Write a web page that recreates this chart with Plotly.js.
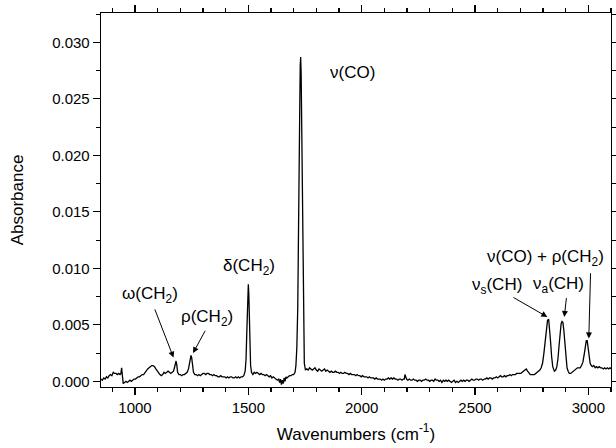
<!DOCTYPE html>
<html>
<head>
<meta charset="utf-8">
<script src="https://cdn.plot.ly/plotly-3.0.1.min.js"></script>
<style>
  html, body { margin: 0; padding: 0; background: #fff; }
  #chart { width: 616px; height: 448px; }
</style>
</head>
<body>
<div id="chart"></div>
<script>
// IR spectrum, absorbance vs wavenumber

const wavenumbers = [
  850, 856, 862, 868, 874, 880, 886, 892, 898, 904, 910, 916, 922, 928, 934, 938, 941, 944, 948,
  954, 960, 966, 972, 978, 984, 990, 996, 1002, 1008, 1014, 1020, 1026, 1032, 1038, 1044, 1050,
  1056, 1062, 1068, 1074, 1080, 1086, 1092, 1098, 1104, 1110, 1116, 1122, 1128, 1134, 1140, 1146,
  1152, 1158, 1164, 1170, 1174, 1178, 1181, 1184, 1188, 1194, 1200, 1206, 1212, 1218, 1224, 1230,
  1236, 1240, 1244, 1247, 1250, 1254, 1258, 1264, 1270, 1276, 1282, 1288, 1294, 1300, 1306, 1312,
  1318, 1324, 1330, 1336, 1342, 1348, 1354, 1360, 1366, 1372, 1378, 1384, 1390, 1396, 1402, 1408,
  1414, 1420, 1426, 1432, 1438, 1444, 1450, 1456, 1462, 1468, 1474, 1480, 1486, 1490, 1493, 1496,
  1498, 1500, 1502, 1504, 1507, 1510, 1514, 1520, 1526, 1532, 1538, 1544, 1550, 1556, 1562, 1568,
  1574, 1580, 1586, 1592, 1598, 1604, 1610, 1616, 1622, 1628, 1634, 1638, 1642, 1646, 1650, 1654,
  1658, 1662, 1666, 1670, 1676, 1682, 1688, 1694, 1700, 1706, 1710, 1714, 1718, 1721, 1724, 1727,
  1729, 1731, 1733, 1735, 1738, 1741, 1744, 1747, 1752, 1758, 1764, 1770, 1776, 1782, 1788, 1794,
  1800, 1806, 1812, 1818, 1824, 1830, 1836, 1842, 1848, 1854, 1860, 1866, 1872, 1878, 1884, 1890,
  1896, 1902, 1908, 1914, 1920, 1926, 1932, 1938, 1944, 1950, 1956, 1962, 1968, 1974, 1980, 1986,
  1992, 1998, 2004, 2010, 2016, 2022, 2028, 2034, 2040, 2046, 2052, 2058, 2064, 2070, 2076, 2082,
  2088, 2094, 2100, 2106, 2112, 2118, 2124, 2130, 2136, 2142, 2148, 2154, 2160, 2166, 2172, 2178,
  2184, 2188, 2191, 2194, 2198, 2204, 2210, 2216, 2222, 2228, 2234, 2240, 2246, 2252, 2258, 2264,
  2270, 2276, 2282, 2288, 2294, 2300, 2306, 2312, 2318, 2324, 2330, 2336, 2342, 2348, 2354, 2360,
  2366, 2372, 2378, 2384, 2390, 2396, 2402, 2408, 2414, 2420, 2426, 2432, 2438, 2444, 2450, 2456,
  2462, 2468, 2474, 2480, 2486, 2492, 2498, 2504, 2510, 2516, 2522, 2528, 2534, 2540, 2546, 2552,
  2558, 2564, 2570, 2576, 2582, 2588, 2594, 2600, 2606, 2612, 2618, 2624, 2630, 2636, 2642, 2648,
  2654, 2660, 2666, 2672, 2678, 2684, 2690, 2696, 2702, 2708, 2714, 2720, 2726, 2732, 2738, 2744,
  2750, 2756, 2762, 2768, 2774, 2780, 2786, 2792, 2798, 2804, 2810, 2815, 2820, 2825, 2829, 2833,
  2838, 2843, 2850, 2856, 2861, 2866, 2871, 2876, 2880, 2884, 2888, 2892, 2896, 2901, 2906, 2911,
  2916, 2922, 2928, 2934, 2940, 2946, 2952, 2958, 2964, 2970, 2976, 2982, 2987, 2991, 2995, 2999,
  3003, 3008, 3013, 3018, 3024, 3030, 3036, 3042, 3048, 3054, 3060, 3066, 3072, 3078, 3084, 3090,
  3096, 3100
];

const absorbance = [
  0.0002, 0.0001, 0.0003, 0.0002, 0.0004, 0.0003, 0.0005, 0.0006, 0.0005, 0.0008, 0.0007, 0.0007, 0.0006, 0.0007, 0.0006, 0.0007, 0.0012, 0.0002, -0.0002,
  -0.0001, 0.0000, -0.0001, 0.0000, 0.0001, 0.0000, 0.0001, 0.0002, 0.0002, 0.0003, 0.0004, 0.0004, 0.0005, 0.0006, 0.0006, 0.0008, 0.0009,
  0.0011, 0.0012, 0.0013, 0.0014, 0.0014, 0.0013, 0.0011, 0.0009, 0.0007, 0.0006, 0.0005, 0.0006, 0.0008, 0.0007, 0.0008, 0.0009,
  0.0008, 0.0007, 0.0008, 0.0009, 0.0012, 0.0017, 0.0018, 0.0015, 0.0008, 0.0006, 0.0006, 0.0005, 0.0006, 0.0006, 0.0007, 0.0008,
  0.0011, 0.0017, 0.0022, 0.0023, 0.0021, 0.0014, 0.0008, 0.0006, 0.0006, 0.0005, 0.0006, 0.0005, 0.0006, 0.0007, 0.0007, 0.0006,
  0.0007, 0.0007, 0.0006, 0.0006, 0.0005, 0.0006, 0.0005, 0.0005, 0.0004, 0.0004, 0.0005, 0.0004, 0.0004, 0.0004, 0.0003, 0.0004,
  0.0003, 0.0004, 0.0004, 0.0003, 0.0003, 0.0004, 0.0003, 0.0004, 0.0003, 0.0004, 0.0004, 0.0005, 0.0009, 0.0020, 0.0042, 0.0072,
  0.0084, 0.0086, 0.0078, 0.0058, 0.0030, 0.0014, 0.0008, 0.0006, 0.0008, 0.0007, 0.0008, 0.0007, 0.0006, 0.0007, 0.0006, 0.0006,
  0.0005, 0.0006, 0.0005, 0.0004, 0.0005, 0.0003, 0.0004, 0.0003, 0.0002, 0.0001, 0.0002, -0.0001, 0.0002, -0.0003, 0.0001, -0.0002,
  0.0003, 0.0000, 0.0004, 0.0003, 0.0004, 0.0005, 0.0005, 0.0006, 0.0006, 0.0008, 0.0014, 0.0030, 0.0065, 0.0110, 0.0175, 0.0245,
  0.0280, 0.0287, 0.0272, 0.0230, 0.0150, 0.0075, 0.0032, 0.0016, 0.0010, 0.0011, 0.0010, 0.0012, 0.0011, 0.0010, 0.0011, 0.0012,
  0.0010, 0.0009, 0.0011, 0.0010, 0.0009, 0.0010, 0.0011, 0.0009, 0.0010, 0.0009, 0.0008, 0.0009, 0.0008, 0.0008, 0.0009, 0.0008,
  0.0008, 0.0007, 0.0008, 0.0007, 0.0007, 0.0008, 0.0007, 0.0007, 0.0006, 0.0007, 0.0006, 0.0006, 0.0006, 0.0005, 0.0006, 0.0005,
  0.0005, 0.0004, 0.0005, 0.0004, 0.0004, 0.0004, 0.0003, 0.0004, 0.0003, 0.0003, 0.0003, 0.0002, 0.0003, 0.0002, 0.0002, 0.0002,
  0.0001, 0.0002, 0.0001, 0.0002, 0.0002, 0.0003, 0.0002, 0.0003, 0.0002, 0.0003, 0.0002, 0.0002, 0.0001, 0.0002, 0.0002, 0.0001,
  0.0002, 0.0002, 0.0006, 0.0003, 0.0002, 0.0001, 0.0002, 0.0001, 0.0001, 0.0002, 0.0001, 0.0001, 0.0000, 0.0001, 0.0001, 0.0000,
  0.0001, 0.0001, 0.0002, 0.0001, 0.0001, 0.0000, 0.0001, 0.0001, 0.0000, 0.0002, 0.0001, 0.0001, 0.0000, 0.0001, -0.0001, 0.0001,
  0.0000, 0.0001, 0.0000, 0.0001, 0.0000, -0.0001, 0.0000, 0.0001, -0.0001, 0.0000, -0.0001, 0.0000, 0.0001, 0.0000, 0.0001, 0.0000,
  0.0001, 0.0001, 0.0000, 0.0001, 0.0002, 0.0001, 0.0001, 0.0002, 0.0002, 0.0001, 0.0002, 0.0002, 0.0001, 0.0002, 0.0002, 0.0003,
  0.0002, 0.0003, 0.0003, 0.0002, 0.0003, 0.0003, 0.0004, 0.0003, 0.0004, 0.0005, 0.0004, 0.0004, 0.0005, 0.0004, 0.0005, 0.0005,
  0.0006, 0.0005, 0.0006, 0.0006, 0.0006, 0.0007, 0.0007, 0.0007, 0.0007, 0.0008, 0.0009, 0.0010, 0.0011, 0.0009, 0.0007, 0.0006,
  0.0006, 0.0006, 0.0006, 0.0007, 0.0008, 0.0009, 0.0010, 0.0012, 0.0016, 0.0025, 0.0036, 0.0047, 0.0054, 0.0055, 0.0048, 0.0036,
  0.0022, 0.0013, 0.0009, 0.0010, 0.0013, 0.0020, 0.0032, 0.0044, 0.0051, 0.0053, 0.0052, 0.0045, 0.0033, 0.0020, 0.0012, 0.0009,
  0.0007, 0.0007, 0.0008, 0.0009, 0.0010, 0.0011, 0.0012, 0.0012, 0.0012, 0.0014, 0.0017, 0.0024, 0.0031, 0.0036, 0.0036, 0.0030,
  0.0021, 0.0016, 0.0014, 0.0013, 0.0014, 0.0012, 0.0013, 0.0012, 0.0013, 0.0012, 0.0012, 0.0011, 0.0012, 0.0011, 0.0012, 0.0011,
  0.0012, 0.0011
];

const xTicks = [1000, 1500, 2000, 2500, 3000];
const yTicks = [0.000, 0.005, 0.010, 0.015, 0.020, 0.025, 0.030];
const yTickText = yTicks.map(v => v.toFixed(3));

const FONT = "Liberation Sans, Arial, sans-serif";
const INK = "#000";

function label(text, x, y) {
  return {
    x: x, y: y, xref: "x", yref: "y",
    text: text, showarrow: false,
    font: { family: FONT, size: 17, color: INK }
  };
}

function arrow(x, y, ax, ay) {
  return {
    x: x, y: y, ax: ax, ay: ay,
    xref: "x", yref: "y", axref: "x", ayref: "y",
    text: "", showarrow: true,
    arrowhead: 2, arrowsize: 1.2, arrowwidth: 1, arrowcolor: INK,
    standoff: 0, startstandoff: 0
  };
}

const annotations = [
  label("\u03bd(CO)", 1960, 0.02735),
  label("\u03b4(CH<sub>2</sub>)", 1505, 0.0101),
  label("\u03c9(CH<sub>2</sub>)", 1065, 0.00766),
  label("\u03c1(CH<sub>2</sub>)", 1317, 0.0056),
  label("\u03bd<sub>s</sub>(CH)", 2595, 0.0084),
  label("\u03bd<sub>a</sub>(CH)", 2870, 0.00854),
  label("\u03bd(CO) + \u03c1(CH<sub>2</sub>)", 2810, 0.0109),
  arrow(1170, 0.0021, 1085, 0.0065),
  arrow(1256, 0.0025, 1313, 0.0046),
  arrow(2819, 0.0057, 2663, 0.0075),
  arrow(2894, 0.0057, 2904, 0.0075),
  arrow(3002, 0.0038, 3010, 0.0097)
];

const axisCommon = {
  showgrid: false,
  zeroline: false,
  showline: true,
  linecolor: INK,
  linewidth: 1.3,
  mirror: "ticks",
  ticks: "outside",
  ticklen: 7,
  tickwidth: 1.2,
  tickcolor: INK,
  tickfont: { family: FONT, size: 15, color: INK }
};

const trace = {
  type: "scatter",
  mode: "lines",
  x: wavenumbers,
  y: absorbance,
  line: { color: INK, width: 1.3 },
  hoverinfo: "x+y"
};

const layout = {
  width: 616,
  height: 448,
  margin: { l: 101, r: 5, t: 13, b: 61 },
  paper_bgcolor: "#fff",
  plot_bgcolor: "#fff",
  font: { family: FONT, color: INK },
  showlegend: false,
  xaxis: Object.assign({}, axisCommon, {
    range: [850, 3100],
    tickvals: xTicks,
    ticktext: xTicks.map(String),
    minor: { dtick: 100, tick0: 0, ticks: "outside", ticklen: 4, tickwidth: 1.2, tickcolor: INK },
    title: { text: "Wavenumbers (cm<sup>-1</sup>)", font: { family: FONT, size: 17, color: INK }, standoff: 12 }
  }),
  yaxis: Object.assign({}, axisCommon, {
    range: [-0.0005, 0.0326],
    tickvals: yTicks,
    ticktext: yTickText,
    minor: { dtick: 0.0025, tick0: 0, ticks: "outside", ticklen: 4, tickwidth: 1.2, tickcolor: INK },
    title: { text: "Absorbance", font: { family: FONT, size: 17, color: INK }, standoff: 24 }
  }),
  annotations: annotations
};

Plotly.newPlot("chart", [trace], layout, { displayModeBar: false, staticPlot: true });
</script>
</body>
</html>
